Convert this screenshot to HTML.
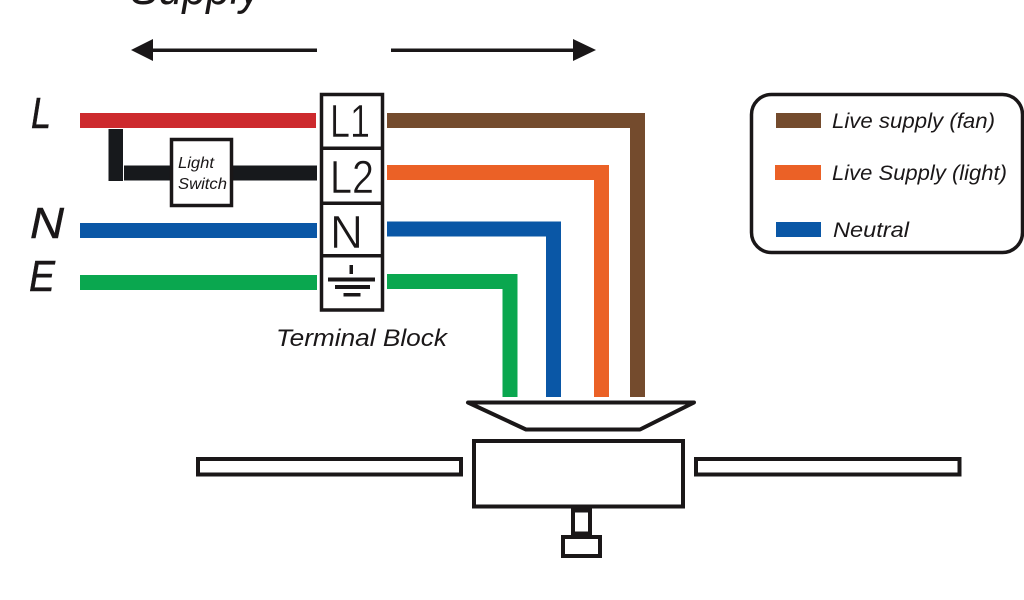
<!DOCTYPE html>
<html>
<head>
<meta charset="utf-8">
<style>
html,body{margin:0;padding:0;background:#fff;width:1024px;height:600px;overflow:hidden}
svg{display:block}
text{font-family:"Liberation Sans",sans-serif;fill:#1a1718}
.i{font-style:italic}
.t{stroke:#fff;stroke-width:.6}
</style>
</head>
<body>
<svg width="1024" height="600" viewBox="0 0 1024 600" xmlns="http://www.w3.org/2000/svg">
<rect width="1024" height="600" fill="#fff"/>
<text class="i" x="130" y="4" font-size="47" textLength="131" lengthAdjust="spacingAndGlyphs">Supply</text>

<!-- arrows -->
<rect x="150" y="48.5" width="167" height="3.5" fill="#1a1718"/>
<polygon points="131,50 153,39 153,61" fill="#1a1718"/>
<rect x="391" y="48.5" width="184" height="3.5" fill="#1a1718"/>
<polygon points="596,50 573,39 573,61" fill="#1a1718"/>

<!-- line labels -->
<text class="i" x="31" y="128" font-size="44" textLength="20" lengthAdjust="spacingAndGlyphs" stroke="#1a1718" stroke-width=".5">L</text>
<text class="i" x="30" y="238" font-size="44" textLength="34" lengthAdjust="spacingAndGlyphs" stroke="#1a1718" stroke-width=".5">N</text>
<text class="i" x="29" y="291" font-size="44" textLength="26" lengthAdjust="spacingAndGlyphs" stroke="#1a1718" stroke-width=".5">E</text>

<!-- left wires -->
<rect x="80" y="113" width="236" height="15" fill="#cd2a2e"/>
<rect x="108.500" y="129" width="14.500" height="52" fill="#17191c"/>
<rect x="124" y="165.500" width="47" height="15" fill="#17191c"/>
<rect x="232" y="165.500" width="85" height="15" fill="#17191c"/>
<rect x="80" y="223" width="237" height="15" fill="#0a57a6"/>
<rect x="80" y="275" width="237" height="15" fill="#0aa74f"/>

<!-- switch -->
<rect x="171.500" y="139.500" width="60" height="66" fill="#fff" stroke="#1a1718" stroke-width="3.500"/>
<text class="i" x="178" y="168" font-size="15.500" textLength="36" lengthAdjust="spacingAndGlyphs">Light</text>
<text class="i" x="178" y="189" font-size="15.500" textLength="49" lengthAdjust="spacingAndGlyphs">Switch</text>

<!-- terminal block -->
<rect x="321.500" y="94.500" width="61" height="215.500" fill="#fff" stroke="#1a1718" stroke-width="3.500"/>
<rect x="320" y="146.500" width="64" height="3.500" fill="#1a1718"/>
<rect x="320" y="201.500" width="64" height="3.500" fill="#1a1718"/>
<rect x="320" y="254" width="64" height="3.500" fill="#1a1718"/>
<text class="t" x="330" y="137" font-size="46" textLength="40" lengthAdjust="spacingAndGlyphs">L1</text>
<text class="t" x="330" y="193" font-size="46" textLength="44" lengthAdjust="spacingAndGlyphs">L2</text>
<text class="t" x="330" y="248" font-size="46" textLength="33" lengthAdjust="spacingAndGlyphs">N</text>
<rect x="349.500" y="265" width="3.500" height="9" fill="#1a1718"/>
<rect x="328" y="277.500" width="47" height="4" fill="#1a1718"/>
<rect x="335" y="285" width="35" height="4" fill="#1a1718"/>
<rect x="343.500" y="293" width="17" height="3.500" fill="#1a1718"/>
<text class="i" x="276" y="346" font-size="24" textLength="171" lengthAdjust="spacingAndGlyphs">Terminal Block</text>

<!-- right wires -->
<path d="M387 120.500H637.500V397" fill="none" stroke="#744b2d" stroke-width="15"/>
<path d="M387 172.500H601.500V397" fill="none" stroke="#eb6126" stroke-width="15"/>
<path d="M387 229H553.500V397" fill="none" stroke="#0a57a6" stroke-width="15"/>
<path d="M387 281.500H510V397" fill="none" stroke="#0aa74f" stroke-width="15"/>

<!-- legend -->
<rect x="751.500" y="94.500" width="271" height="158" rx="20" ry="20" fill="#fff" stroke="#1a1718" stroke-width="3.500"/>
<rect x="776" y="113" width="45" height="15" fill="#744b2d"/>
<rect x="775" y="165" width="46" height="15" fill="#eb6126"/>
<rect x="776" y="222" width="45" height="15" fill="#0a57a6"/>
<text class="i" x="832" y="128" font-size="21" textLength="163" lengthAdjust="spacingAndGlyphs">Live supply (fan)</text>
<text class="i" x="832" y="180" font-size="21" textLength="175" lengthAdjust="spacingAndGlyphs">Live Supply (light)</text>
<text class="i" x="833" y="237" font-size="21" textLength="76" lengthAdjust="spacingAndGlyphs">Neutral</text>

<!-- fan -->
<polygon points="468,402.500 694,402.500 640,429.500 526,429.500" fill="#fff" stroke="#1a1718" stroke-width="4" stroke-linejoin="round"/>
<rect x="198" y="459" width="263" height="15.500" fill="#fff" stroke="#1a1718" stroke-width="4"/>
<rect x="696" y="459" width="263.500" height="15.500" fill="#fff" stroke="#1a1718" stroke-width="4"/>
<rect x="474" y="441" width="209" height="65.500" fill="#fff" stroke="#1a1718" stroke-width="4"/>
<rect x="573" y="510.500" width="17" height="23" fill="#fff" stroke="#1a1718" stroke-width="4"/>
<rect x="563" y="537" width="37" height="19" fill="#fff" stroke="#1a1718" stroke-width="4"/>
</svg>
</body>
</html>
